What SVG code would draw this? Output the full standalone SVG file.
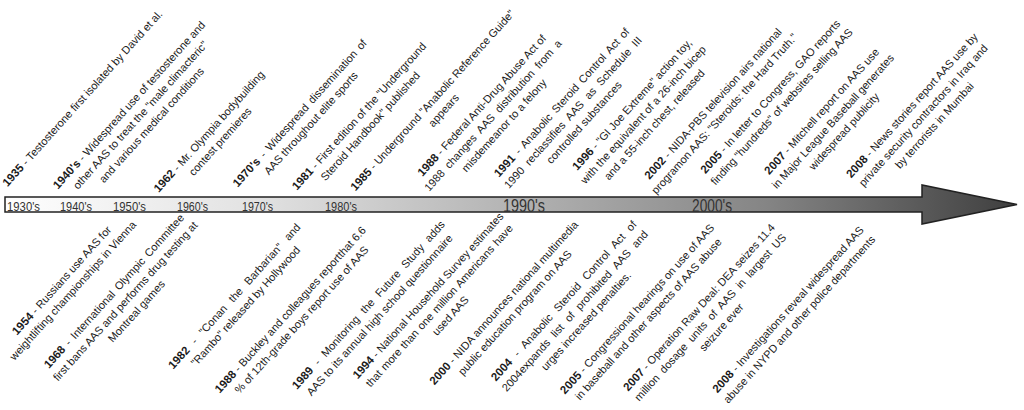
<svg xmlns="http://www.w3.org/2000/svg" width="1024" height="410" viewBox="0 0 1024 410">
<style>
.t{font-family:"Liberation Sans",Arial,sans-serif;font-size:11px;fill:#1a1a1a;text-anchor:middle}
.t .y{font-weight:bold;font-size:11.5px}
.lab{font-family:"Liberation Sans",Arial,sans-serif;font-size:13.5px;fill:#333}
.big{font-family:"Liberation Sans",Arial,sans-serif;font-size:18px;fill:#333}
</style>
<defs>
<linearGradient id="g" gradientUnits="userSpaceOnUse" x1="0" y1="0" x2="1020" y2="0">
<stop offset="0" stop-color="#ffffff"/>
<stop offset="0.25" stop-color="#e2e2e2"/>
<stop offset="0.5" stop-color="#b4b4b4"/>
<stop offset="0.75" stop-color="#858585"/>
<stop offset="1" stop-color="#3e3e3e"/>
</linearGradient>
</defs>
<g id="connectors">
<path id="timeline-arrow" d="M5,197 L922,197 L922,185 L1017,204.5 L922,224 L922,212 L5,212 Z" fill="url(#g)" stroke="#222" stroke-width="1.5" stroke-linejoin="miter"/>
</g>
<g id="axis-labels">
<text class="lab" x="7" y="211" textLength="33" lengthAdjust="spacingAndGlyphs">1930's</text>
<text class="lab" x="60" y="211" textLength="32" lengthAdjust="spacingAndGlyphs">1940's</text>
<text class="lab" x="113" y="211" textLength="33" lengthAdjust="spacingAndGlyphs">1950's</text>
<text class="lab" x="177" y="211" textLength="31" lengthAdjust="spacingAndGlyphs">1960's</text>
<text class="lab" x="242" y="211" textLength="31" lengthAdjust="spacingAndGlyphs">1970's</text>
<text class="lab" x="325" y="211" textLength="32" lengthAdjust="spacingAndGlyphs">1980's</text>
<text class="big" x="503" y="212" textLength="42" lengthAdjust="spacingAndGlyphs">1990's</text>
<text class="big" x="692" y="212" textLength="40" lengthAdjust="spacingAndGlyphs">2000's</text>
</g>
<g id="e1935" transform="translate(5,190) rotate(-48)"><text class="t" x="120" y="0"><tspan class="y">1935</tspan> - Testosterone first isolated by David et al.</text></g>
<g id="e1940s" transform="translate(55,193) rotate(-48)"><text class="t" x="115" y="0"><tspan class="y">1940's</tspan> - Widespread use of testosterone and</text><text class="t" x="115" y="15">other AAS to treat the "male climacteric"</text><text class="t" x="115" y="30">and various medical conditions</text></g>
<g id="e1962" transform="translate(157,195) rotate(-48)"><text class="t" x="82" y="0"><tspan class="y">1962</tspan> - Mr. Olympia bodybuilding</text><text class="t" x="82" y="15">contest premieres</text></g>
<g id="e1970s" transform="translate(233,193) rotate(-48)"><text class="t" x="104" y="0" word-spacing="2"><tspan class="y">1970's</tspan>  - Widespread dissemination of</text><text class="t" x="104" y="15">AAS throughout elite sports</text></g>
<g id="e1981" transform="translate(295,193) rotate(-48)"><text class="t" x="100" y="0"><tspan class="y">1981</tspan> - First edition of the "Underground</text><text class="t" x="100" y="15">Steroid Handbook" published</text></g>
<g id="e1985" transform="translate(355,192) rotate(-48)"><text class="t" x="120" y="0"><tspan class="y">1985</tspan> - Underground "Anabolic Reference Guide"</text><text class="t" x="120" y="15">appears</text></g>
<g id="e1988a" transform="translate(417,183) rotate(-48)"><text class="t" x="101" y="0"><tspan class="y">1988</tspan> - Federal Anti-Drug Abuse Act of</text><text class="t" x="101" y="15" word-spacing="3">1988 changes AAS distribution from a</text><text class="t" x="101" y="30">misdemeanor to a felony</text></g>
<g id="e1991" transform="translate(497,180) rotate(-48)"><text class="t" x="101" y="0" word-spacing="2"><tspan class="y">1991</tspan> - Anabolic Steroid Control Act of</text><text class="t" x="101" y="15" word-spacing="3.5">1990 reclassifies AAS as Schedule III</text><text class="t" x="101" y="30">controlled substances</text></g>
<g id="e1996" transform="translate(572,177) rotate(-48)"><text class="t" x="94" y="0"><tspan class="y">1996</tspan> - "GI Joe Extreme" action toy,</text><text class="t" x="94" y="15">with the equivalent of a 26-inch bicep</text><text class="t" x="94" y="30">and a 55-inch chest, released</text></g>
<g id="e2002" transform="translate(645,185) rotate(-48)"><text class="t" x="106" y="0"><tspan class="y">2002</tspan> - NIDA-PBS television airs national</text><text class="t" x="106" y="15">programon AAS: "Steroids: the Hard Truth."</text></g>
<g id="e2005a" transform="translate(705,175) rotate(-48)"><text class="t" x="102" y="0"><tspan class="y">2005</tspan> - In letter to Congress, GAO reports</text><text class="t" x="102" y="15">finding "hundreds" of websites selling AAS</text></g>
<g id="e2007a" transform="translate(765,180) rotate(-48)"><text class="t" x="89" y="0"><tspan class="y">2007</tspan> - Mitchell report on AAS use</text><text class="t" x="89" y="15">in Major League Baseball generates</text><text class="t" x="89" y="30">widespread publicity</text></g>
<g id="e2008a" transform="translate(850,180) rotate(-48)"><text class="t" x="97" y="0"><tspan class="y">2008</tspan> - News stories report AAS use by</text><text class="t" x="97" y="15">private security contractors in Iraq and</text><text class="t" x="97" y="30">by terrorists in Mumbai</text></g>
<g id="e1954" transform="translate(15,338) rotate(-48)"><text class="t" x="74" y="0"><tspan class="y">1954</tspan> - Russians use AAS for</text><text class="t" x="74" y="15">weightlifting championships in Vienna</text></g>
<g id="e1968" transform="translate(50,368) rotate(-48)"><text class="t" x="100" y="0" word-spacing="2"><tspan class="y">1968</tspan> - International Olympic Committee</text><text class="t" x="100" y="15">first bans AAS and performs drug testing at</text><text class="t" x="100" y="30">Montreal games</text></g>
<g id="e1982" transform="translate(173,370) rotate(-48)"><text class="t" x="96" y="0" word-spacing="5"><tspan class="y">1982</tspan> - "Conan the Barbarian" and</text><text class="t" x="96" y="15">"Rambo" released by Hollywood</text></g>
<g id="e1988b" transform="translate(217,397) rotate(-48)"><text class="t" x="114" y="0"><tspan class="y">1988</tspan> - Buckley and colleagues reportthat 6.6</text><text class="t" x="114" y="15">% of 12th-grade boys report use of AAS</text></g>
<g id="e1989" transform="translate(297,390) rotate(-48)"><text class="t" x="111" y="0" word-spacing="4"><tspan class="y">1989</tspan> - Monitoring the Future Study adds</text><text class="t" x="111" y="15">AAS to its annual high school questionnaire</text></g>
<g id="e1994" transform="translate(360,377) rotate(-48)"><text class="t" x="106" y="0"><tspan class="y">1994</tspan> - National Household Survey estimates</text><text class="t" x="106" y="15" word-spacing="1">that more than one million Americans have</text><text class="t" x="106" y="30">used AAS</text></g>
<g id="e2000" transform="translate(433,387) rotate(-48)"><text class="t" x="110" y="0"><tspan class="y">2000</tspan> - NIDA announces national multimedia</text><text class="t" x="110" y="15">public education program on AAS</text></g>
<g id="e2004" transform="translate(495,383) rotate(-48)"><text class="t" x="107" y="0" word-spacing="4.5"><tspan class="y">2004</tspan> - Anabolic Steroid Control Act of</text><text class="t" x="107" y="15" word-spacing="4">2004expands list of prohibited AAS and</text><text class="t" x="107" y="30">urges increased penalties.</text></g>
<g id="e2005b" transform="translate(563,397) rotate(-48)"><text class="t" x="115" y="0"><tspan class="y">2005</tspan> - Congressional hearings on use of AAS</text><text class="t" x="115" y="15">in baseball and other aspects of AAS abuse</text></g>
<g id="e2007b" transform="translate(627,393) rotate(-48)"><text class="t" x="112" y="0"><tspan class="y">2007</tspan> - Operation Raw Deal: DEA seizes 11.4</text><text class="t" x="112" y="15" word-spacing="3">million dosage units of AAS in largest US</text><text class="t" x="112" y="30">seizure ever</text></g>
<g id="e2008b" transform="translate(718,393) rotate(-48)"><text class="t" x="109" y="0"><tspan class="y">2008</tspan> - Investigations reveal widespread AAS</text><text class="t" x="109" y="15">abuse in NYPD and other police departments</text></g>
</svg>
